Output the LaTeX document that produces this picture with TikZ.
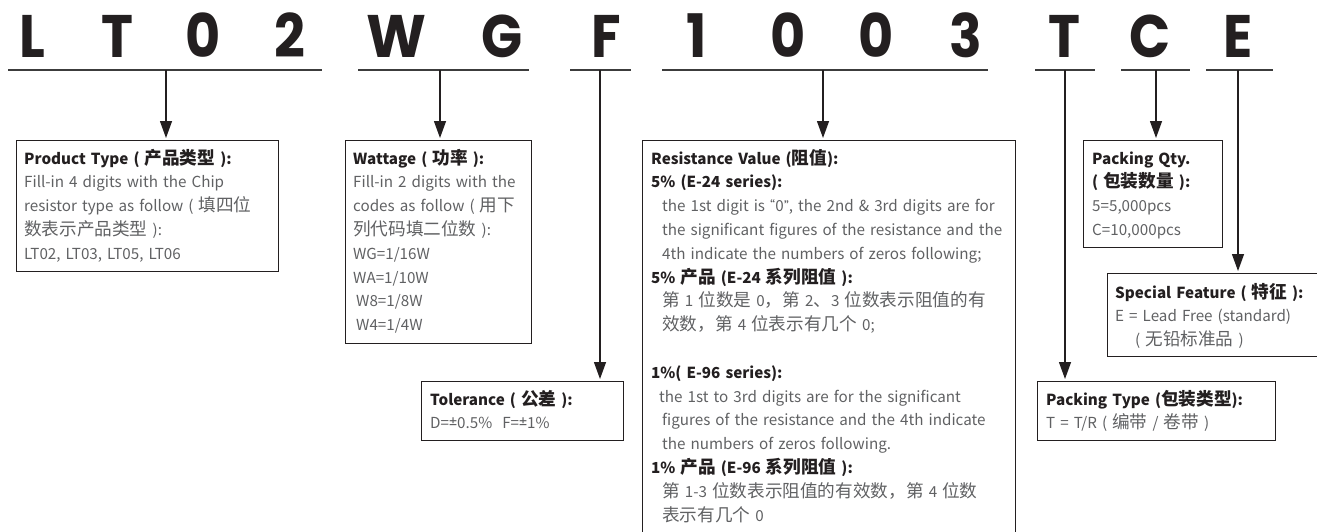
\documentclass[tikz,border=0pt]{standalone}
\usepackage{fontspec}
\setmainfont{Noto Sans CJK SC}
\newfontfamily\cjk{Noto Sans CJK SC}[Scale=1.16]
\newfontfamily\titlefont{Poppins}
\newfontfamily\latfont{PT Sans}
\usetikzlibrary{arrows.meta,calc}
\definecolor{ink}{HTML}{231F20}
\definecolor{bodygrey}{HTML}{606163}
\definecolor{rulegrey}{HTML}{3C3C3C}
\newcommand{\tit}[1]{{\color{ink}\bfseries #1}}
\newcommand{\zh}[1]{{\cjk #1}}
\begin{document}
\begin{tikzpicture}[x=1pt,y=-1pt,
  letter/.style={font=\titlefont\bfseries\fontsize{60}{60}\selectfont, text=ink, inner sep=0pt, anchor=base},
  underl/.style={draw=rulegrey, line width=2pt},
  bx/.style={draw=ink, line width=1.3pt, inner sep=0pt, anchor=north west, rectangle},
  txt/.style={font=\fontsize{15.2}{23.8}\selectfont, text=bodygrey, align=left, text width=#1, inner sep=0pt, anchor=base west},
  arr/.style={draw=ink, line width=1.3pt, -{Triangle[width=12pt,length=17pt]}, shorten >=2pt}]
\path[use as bounding box] (0,0) rectangle (1317,531);
\clip (0,0) rectangle (1317,531);

% big code letters
\node[letter] (c1) at (32,57) {\scalebox{0.9}[1]{L}};
\node[letter] (c2) at (117,57) {\scalebox{0.9}[1]{T}};
\node[letter] (c3) at (203,57) {\scalebox{0.9}[1]{0}};
\node[letter] (c4) at (290,57) {\scalebox{0.9}[1]{2}};
\node[letter] (c5) at (396,57) {\scalebox{0.95}[1]{W}};
\node[letter] (c6) at (502,57) {\scalebox{0.9}[1]{G}};
\node[letter] (c7) at (606,57) {\scalebox{0.9}[1]{F}};
\node[letter] (c8) at (697,57) {\scalebox{0.9}[1]{1}};
\node[letter] (c9) at (788,57) {\scalebox{0.9}[1]{0}};
\node[letter] (c10) at (876,57) {\scalebox{0.9}[1]{0}};
\node[letter] (c11) at (966,57) {\scalebox{0.9}[1]{3}};
\node[letter] (c12) at (1064,57) {\scalebox{0.9}[1]{T}};
\node[letter] (c13) at (1150,57) {\scalebox{0.9}[1]{C}};
\node[letter] (c14) at (1238,57) {\scalebox{0.9}[1]{E}};

% underlines
\draw[underl] (8,70) -- (322,70);
\draw[underl] (358,70) -- (529,70);
\draw[underl] (570,70) -- (631,70);
\draw[underl] (662,70) -- (988,70);
\draw[underl] (1035,70) -- (1095,70);
\draw[underl] (1121,70) -- (1190,70);
\draw[underl] (1206,70) -- (1273,70);

\coordinate (u1) at (166,70);
\coordinate (u2) at (440,70);
\coordinate (u3) at (600,70);
\coordinate (u4) at (823,70);
\coordinate (u5) at (1065,70);
\coordinate (u6) at (1156,70);
\coordinate (u7) at (1238,70);

% boxes
\node[bx, minimum width=262pt, minimum height=131pt] (b1) at (16,140) {};
\node[bx, minimum width=186pt, minimum height=203pt] (b2) at (345,140) {};
\node[bx, minimum width=202pt, minimum height=59pt] (b3) at (421,381) {};
\node[bx, minimum width=373pt, minimum height=420pt] (b4) at (642,140) {};
\node[bx, minimum width=238pt, minimum height=59pt] (b5) at (1037,381) {};
\node[bx, minimum width=139pt, minimum height=107pt] (b6) at (1083,140) {};
\node[bx, minimum width=230pt, minimum height=83pt] (b7) at (1107,273) {};

% texts
\node[txt=260pt] (t1) at ($(b1.north west)+(8,24)$) {\tit{Product Type ( \zh{产品类型} ):}\\
Fill-in 4 digits with the Chip\\
resistor type as follow ( \zh{填四位}\\
\zh{数表示产品类型} ):\\
LT02, LT03, LT05, LT06};

\node[txt=180pt] (t2) at ($(b2.north west)+(8,24)$) {\tit{Wattage ( \zh{功率} ):}\\
Fill-in 2 digits with the\\
codes as follow ( \zh{用下}\\
\zh{列代码填二位数} ):\\
WG=1/16W\\
WA=1/10W\\
\hspace*{3pt}W8=1/8W\\
\hspace*{3pt}W4=1/4W};

\node[txt=195pt] (t3) at ($(b3.north west)+(9,24)$) {\tit{Tolerance ( \zh{公差} ):}\\
D={\latfont\fontsize{16}{16}\selectfont ±}0.5\%\hspace*{10pt}F={\latfont\fontsize{16}{16}\selectfont ±}1\%};

\node[txt=365pt] (t4) at ($(b4.north west)+(9,24)$) {\tit{Resistance Value (\zh{阻值}):}\\
\tit{5\% (E-24 series):}\\
\hspace*{11pt}the 1st digit is {\latfont “}0{\latfont ”}, the 2nd \& 3rd digits are for\\
\hspace*{11pt}the significant figures of the resistance and the\\
\hspace*{11pt}4th indicate the numbers of zeros following;\\
\tit{5\% \zh{产品} (E-24 \zh{系列阻值} ):}\\
\hspace*{11pt}\zh{第} 1 \zh{位数是} 0\zh{，第} 2\zh{、}3 \zh{位数表示阻值的有}\\
\hspace*{11pt}\zh{效数，第} 4 \zh{位表示有几个} 0;\\
\mbox{}\\
\tit{1\%( E-96 series):}\\
\hspace*{8pt}the 1st to 3rd digits are for the significant\\
\hspace*{11pt}figures of the resistance and the 4th indicate\\
\hspace*{11pt}the numbers of zeros following.\\
\tit{1\% \zh{产品} (E-96 \zh{系列阻值} ):}\\
\hspace*{11pt}\zh{第} 1-3 \zh{位数表示阻值的有效数，第} 4 \zh{位数}\\
\hspace*{11pt}\zh{表示有几个} 0};

\node[txt=230pt] (t5) at ($(b5.north west)+(9,24)$) {\tit{Packing Type (\zh{包装类型}):}\\
T = T/R ( \zh{编带} / \zh{卷带} )};

\node[txt=135pt] (t6) at ($(b6.north west)+(9,24)$) {\tit{Packing Qty.}\\
\tit{( \zh{包装数量} ):}\\
5=5,000pcs\\
C=10,000pcs};

\node[txt=220pt] (t7) at ($(b7.north west)+(8,25)$) {\tit{Special Feature ( \zh{特征} ):}\\
E = Lead Free (standard)\\
\hspace*{20pt}( \zh{无铅标准品} )};

% arrows
\draw[arr] (u1) -- (u1 |- b1.north);
\draw[arr] (u2) -- (u2 |- b2.north);
\draw[arr] (u3) -- (u3 |- b3.north);
\draw[arr] (u4) -- (u4 |- b4.north);
\draw[arr] (u5) -- (u5 |- b5.north);
\draw[arr] (u6) -- (u6 |- b6.north);
\draw[arr] (u7) -- (u7 |- b7.north);
\end{tikzpicture}
\end{document}
